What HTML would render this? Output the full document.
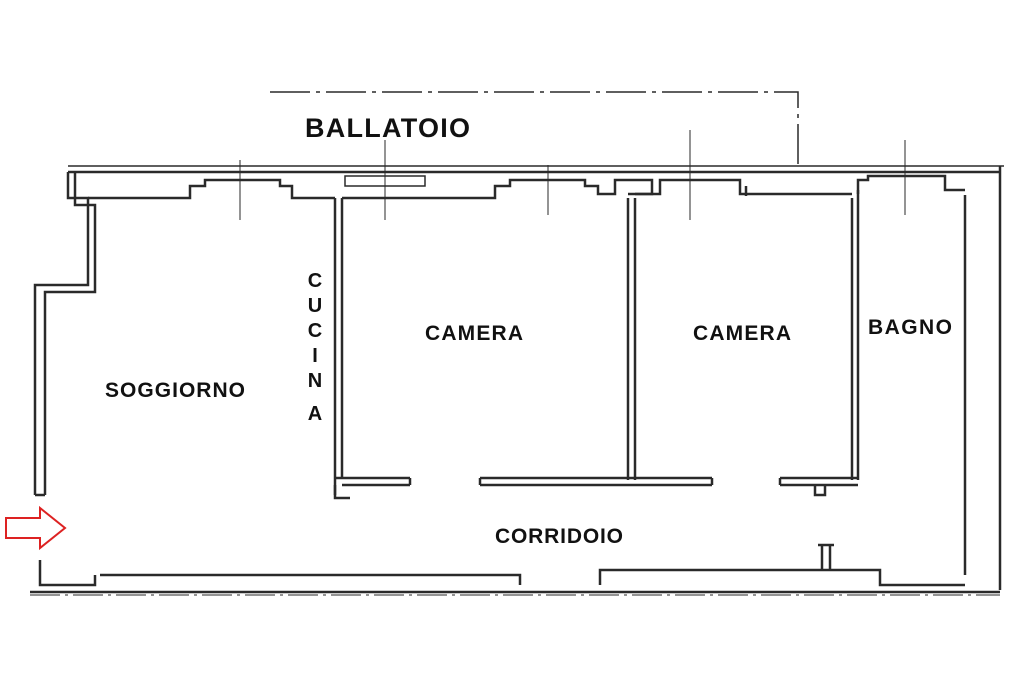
<!DOCTYPE html>
<html><head><meta charset="utf-8"><style>
html,body{margin:0;padding:0;background:#fff;}
svg{display:block}
text{font-family:"Liberation Sans",sans-serif;font-weight:bold;fill:#111}
</style></head><body>
<svg width="1024" height="682" viewBox="0 0 1024 682" xmlns="http://www.w3.org/2000/svg">
<g stroke="#2a2a2a" fill="none" stroke-width="2.5">
<path d="M270 92 H798 V165" stroke-dasharray="40 6 4 6" stroke-width="1.5"/>
<path d="M68 172 H1000"/>
<path d="M68 166 H1004" stroke-width="1.5"/>
<path d="M88 198 H190 V186 H205 V180 H280 V186 H292 V198 H335"/>
<path d="M342 198 H495 V186 H510 V180 H585 V186 H598 V194 H615 V180 H652 V194 H628"/>
<path d="M635 194 H660 V180 H740 V194 H852"/>
<path d="M746 186 V196" />
<path d="M858 194 V180 H868 V176 H945 V190 H965"/>
<path d="M345 176 H425 V186 H345 Z" stroke-width="1.5"/>
<path d="M68 172 V198 H88 V285 H35 V495"/>
<path d="M75 172 V205 H95 V292 H45 V495"/>
<path d="M35 495 H45"/>
<path d="M1000 166 V590"/>
<path d="M965 195 V575"/>
<path d="M30 592 H1000"/>
<path d="M100 575 H520 V585"/>
<path d="M600 585 V570 H880 V585 H965"/>
<path d="M40 560 V585 H95 V575"/>
<path d="M30 595 H1000" stroke-dasharray="30 5 3 5" stroke-width="1"/>
<path d="M335 198 V495 M342 198 V478"/>
<path d="M628 198 V480 M635 198 V480"/>
<path d="M852 198 V480 M858 190 V480"/>
<path d="M335 478 H410 M342 485 H410 M410 478 V485"/>
<path d="M480 478 H712 M480 485 H712 M480 478 V485 M712 478 V485"/>
<path d="M780 478 H858 M780 485 H858 M780 478 V485"/>
<path d="M335 485 V498 H350"/>
<path d="M815 485 V495 H825 V485"/>
<path d="M822 545 V570 M830 545 V570 M818 545 H834"/>
<path d="M240 160 V220 M385 140 V220 M548 165 V215 M690 130 V220 M905 140 V215" stroke-width="1"/>
</g>
<path d="M6 518 H40 V508 L65 528 L40 548 V538 H6 Z" fill="#fff" stroke="#d22" stroke-width="2"/>
<text x="305" y="137" font-size="27" textLength="165">BALLATOIO</text>
<text x="105" y="397" font-size="21" textLength="140">SOGGIORNO</text>
<g font-size="20" text-anchor="middle">
<text x="315" y="287">C</text><text x="315" y="312">U</text><text x="315" y="337">C</text>
<text x="315" y="362">I</text><text x="315" y="387">N</text><text x="315" y="420">A</text>
</g>
<text x="425" y="340" font-size="21" textLength="98">CAMERA</text>
<text x="693" y="340" font-size="21" textLength="98">CAMERA</text>
<text x="868" y="334" font-size="21" textLength="84">BAGNO</text>
<text x="495" y="543" font-size="21" textLength="128">CORRIDOIO</text>
</svg>
</body></html>
